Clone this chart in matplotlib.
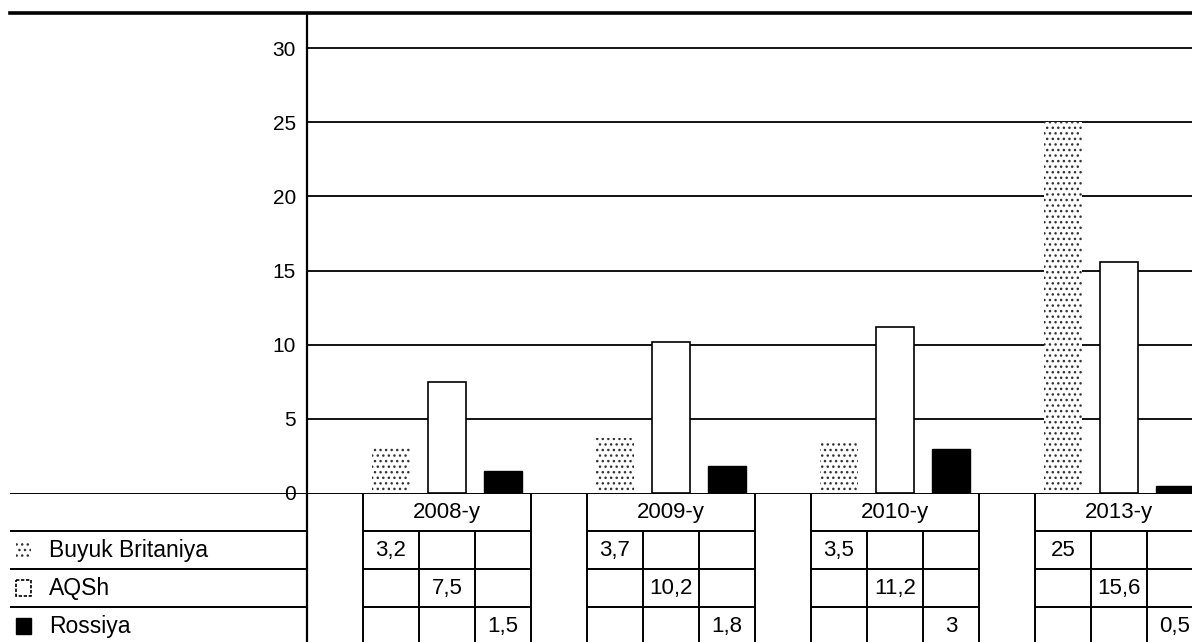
import matplotlib
matplotlib.use("Agg")
import matplotlib.pyplot as plt
from matplotlib.patches import Rectangle
from matplotlib.lines import Line2D

plt.rcParams['font.family'] = ['Liberation Sans', 'DejaVu Sans']
plt.rcParams['hatch.linewidth'] = 1.0

years = ['2008-y', '2009-y', '2010-y', '2013-y']
series = ['Buyuk Britaniya', 'AQSh', 'Rossiya']
britain = [3.2, 3.7, 3.5, 25]
aqsh = [7.5, 10.2, 11.2, 15.6]
rossiya = [1.5, 1.8, 3, 0.5]
value_labels = [['3,2', '3,7', '3,5', '25'],
                ['7,5', '10,2', '11,2', '15,6'],
                ['1,5', '1,8', '3', '0,5']]
yticks = [0, 5, 10, 15, 20, 25, 30]

W, H = 1192, 642
fig = plt.figure(figsize=(W / 100, H / 100), dpi=100)

def fx(px):
    return px / W

def fy(py):
    return 1 - py / H

unit = 56.0           # px per sub-cell
x_left_px = 307.0     # y-axis position
xmin = -0.5
xmax = xmin + (W - x_left_px) / unit

# ---- main chart axes ----
y0_px, ytop_px, y30_px = 493.0, 13.0, 48.0
ymax = 30 * (y0_px - ytop_px) / (y0_px - y30_px)
ax = fig.add_axes([fx(x_left_px), fy(y0_px), fx(W - x_left_px), (y0_px - ytop_px) / H])
ax.set_xlim(xmin, xmax)
ax.set_ylim(0, ymax)
for s in ['top', 'right', 'bottom']:
    ax.spines[s].set_visible(False)
ax.spines['left'].set_linewidth(1.6)
ax.set_xticks([])
ax.set_yticks(yticks)
ax.set_yticklabels([str(t) for t in yticks], fontsize=15)
ax.tick_params(axis='y', length=0, pad=8)
for t in yticks[1:]:
    ax.axhline(t, color='black', lw=1.3, zorder=1)

bw = 0.68
data = [britain, aqsh, rossiya]
styles = [dict(facecolor='white', edgecolor='#333333', hatch='...', linewidth=0),
          dict(facecolor='white', edgecolor='black', linewidth=1.2),
          dict(facecolor='black', edgecolor='black', linewidth=1.0)]
for k, vals in enumerate(data):
    xs = [4 * g + 1 + k for g in range(len(years))]
    ax.bar(xs, vals, width=bw, zorder=3, **styles[k])

# ---- table axes (full width) ----
tx_min = xmin - x_left_px / unit
row_h = 38.0
tab = fig.add_axes([0, 0, 1, fy(y0_px)])
tab.set_xlim(tx_min, xmax)
tab.set_ylim((H - y0_px) / row_h, 0)
tab.axis('off')

lk = dict(color='black', lw=1.4, solid_capstyle='butt')
x_lab0 = tx_min + 10 / unit
# top line (zero line)
tab.plot([x_lab0, xmax], [0, 0], **lk)
# left label column horizontal lines
for r in [1, 2, 3]:
    tab.plot([x_lab0, xmin], [r, r], **lk)
bottom = (H - y0_px) / row_h + 0.2
tab.plot([xmin, xmin], [0, bottom], color='black', lw=1.6)

for g, yr in enumerate(years):
    s = 4 * g + 0.5
    tab.plot([s, s], [0, bottom], **lk)
    tab.plot([s + 3, s + 3], [0, bottom], **lk)
    for c in [1, 2]:
        tab.plot([s + c, s + c], [1, bottom], **lk)
    for r in [1, 2, 3]:
        tab.plot([s, s + 3], [r, r], **lk)
    tab.text(s + 1.5, 0.52, yr, ha='center', va='center', fontsize=16)
    for k in range(3):
        tab.text(s + 0.5 + k, k + 1.52, value_labels[k][g], ha='center', va='center', fontsize=16)

# row labels with swatches
sw_x = tx_min + 16 / unit
sw_w = 15 / unit
for k, name in enumerate(series):
    yc = k + 1.5
    st = dict(styles[k])
    if k == 1:
        st['linestyle'] = (0, (2, 1))
    tab.add_patch(Rectangle((sw_x, yc - 0.2), sw_w, 0.4, **st))
    tab.text(tx_min + 49 / unit, yc + 0.02, name, ha='left', va='center', fontsize=16.5)

# top border line
fig.add_artist(Line2D([fx(10), 1], [fy(13), fy(13)], transform=fig.transFigure,
                      color='black', lw=2.6))

fig.savefig('out.png', dpi=100)
